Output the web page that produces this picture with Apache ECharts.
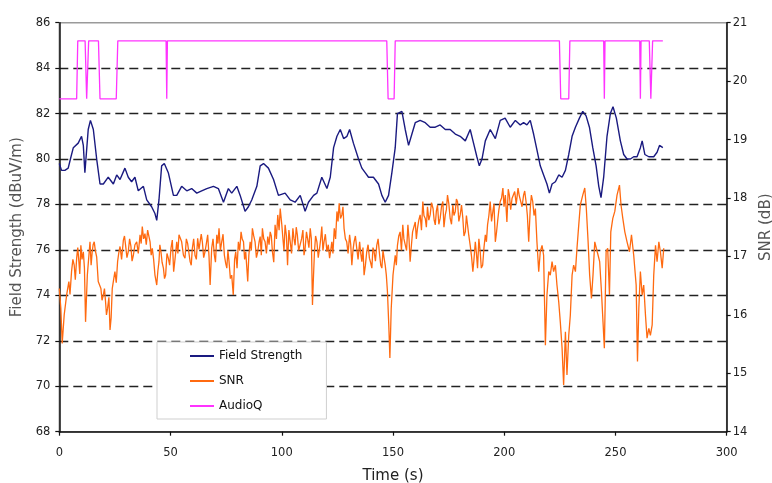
<!DOCTYPE html>
<html><head><meta charset="utf-8">
<script src="https://cdn.jsdelivr.net/npm/echarts@6/dist/echarts.min.js"></script>
<style>html,body{margin:0;padding:0;background:#fff}#c{width:772px;height:483px}</style>
</head><body><div id="c"></div><script>
// Time (s), Field Strength (dBuV/m)
const fieldStrength = [[0,79.8],[1,79.5],[2.5,79.5],[4,79.6],[5,80.0],[6.3,80.5],[8.5,80.7],[10,81.0],[10.8,80.6],[11.5,79.4],[13,81.3],[14,81.7],[15.3,81.3],[16.8,80.0],[18.3,78.9],[19.8,78.9],[22,79.2],[24.3,78.9],[25.8,79.3],[27.3,79.1],[29.5,79.6],[31,79.2],[32.5,79.0],[34,79.2],[35.5,78.6],[37.8,78.8],[39.3,78.2],[41.5,77.9],[43,77.6],[43.8,77.3],[44.8,78.2],[46,79.7],[47.2,79.8],[49,79.4],[51.3,78.4],[52.8,78.4],[55,78.8],[57.3,78.6],[59.5,78.7],[61.8,78.5],[64,78.6],[66.3,78.7],[69.3,78.8],[71.5,78.7],[73.8,78.1],[76,78.7],[77.5,78.5],[79.8,78.8],[81.3,78.4],[83.5,77.7],[85,77.9],[86.5,78.2],[88.8,78.8],[90.3,79.7],[91.8,79.8],[94,79.6],[96.3,79.1],[98.5,78.4],
[101.5,78.5],[103.8,78.2],[106,78.1],[108.3,78.4],[110.5,77.7],[112,78.1],[114.3,78.4],[115.8,78.5],[118,79.2],[120.3,78.7],[121.8,79.2],[123.3,80.5],[124.8,81.0],[126.3,81.3],[127.8,80.9],[129.3,81.0],[130.5,81.3],[132.2,80.7],[134.5,80.0],[136,79.6],[137.5,79.4],[139,79.2],[141.2,79.2],[143.5,78.9],[145,78.4],[146.5,78.1],[148,78.4],[149.5,79.4],[151,80.5],[152,82.0],[154,82.1],[155.5,81.3],[157,80.6],[158.5,81.1],[160,81.6],[162.2,81.7],[164.5,81.6],[166.7,81.4],[169,81.4],[171.2,81.5],[173.5,81.3],[175.7,81.3],[178,81.1],[180.2,81.0],[182.5,80.8],[184.7,81.3],[186.2,80.7],[187.7,80.1],[188.8,79.7],[190,80.0],[191.5,80.8],[193.7,81.3],[196,80.9],[198.2,81.7],[200.4,81.8],
[202.7,81.4],[205,81.7],[207.2,81.5],[208.7,81.6],[210.2,81.5],[211.7,81.7],[213.2,81.1],[214.7,80.4],[216.2,79.7],[217.7,79.3],[219.2,78.9],[220.3,78.5],[221.5,78.9],[223,79.0],[224.5,79.3],[226,79.2],[227.5,79.5],[229,80.2],[230.5,81.0],[232,81.4],[233.8,81.8],[235.3,82.1],[236.8,81.9],[238.3,81.4],[239.8,80.5],[241.3,79.7],[242.5,78.8],[243.5,78.3],[244.7,79.2],[246.2,81.0],[247.7,82.0],[248.9,82.3],[250.4,81.8],[252.2,80.8],[253.7,80.2],[255.2,80.0],[256.7,80.0],[258.2,80.1],[259.7,80.1],[261.2,80.5],[262,80.8],[263.2,80.2],[265,80.1],[267.2,80.1],[268.7,80.3],[269.8,80.6],[271.3,80.5]];

// Time (s), SNR (dB) - main trace
const snrMain = [[0,16.45],[0.7,16.11],[1.3,15.51],[2.2,16.0],[3.3,16.34],[4.3,16.57],[5.5,16.74],[6.7,16.85],[7.8,16.97],[8.8,16.91],[9.7,17.19],[10.8,17.08],[11.8,15.88],[12.6,16.68],[13.8,17.25],[14.8,17.08],[15.7,17.25],[16.8,16.99],[17.5,16.57],[18.7,16.45],[19.8,16.34],[20.8,16.22],[21.7,16.11],[22.8,15.74],[23.8,16.45],[25,16.74],[26.2,16.91],[27.3,17.17],[28.8,17.28],[29.8,17.19],[31,17.08],[32.2,17.17],[33.3,17.02],[34.8,17.25],[36.3,17.37],[37.3,17.51],[38.5,17.39],[39.7,17.45],[40.8,17.25],[41.8,17.14],[43,16.68],[43.8,16.51],[44.8,16.91],[45.7,17.08],[46.8,16.80],[47.8,16.68],[49,16.97],[50.2,17.14],[51.4,16.74],[52.8,17.25],[53.8,17.37],[55,17.25],[56.5,16.97],[57.7,17.22],[58.8,16.91],[59.8,17.14],[61,17.02],[62.2,17.31],[63.3,17.14],[64.3,17.25],[65.5,17.08],[66.7,17.37],[67.8,16.51],[68.5,17.14],[69.7,17.02],[70.8,17.37],[71.8,17.48],[73,17.25],[74.2,17.02],[75.3,16.80],[76.3,16.91],[77.5,16.68],[78.2,16.34],[79.3,17.08],[80.5,17.25],[81.7,17.42],[82.8,17.25],[83.8,17.08],[84.7,16.57],[85.8,17.25],[86.8,17.48],[88,17.25],[89.2,17.08],[90.3,17.34],[91.3,17.48],[92.5,17.25],[93.7,17.34],[94.8,17.42],[95.8,17.08],[97,17.54],[98.2,17.71],[99.3,17.82],
[100.5,17.31],[101.5,17.54],[102.6,16.85],[103.8,17.25],[105,17.48],[106,17.19],[107,17.37],[108.3,17.08],[109.5,17.45],[110.5,17.14],[111.6,17.31],[112.8,17.48],[113.8,16.17],[114.7,17.08],[115.8,17.25],[117,17.14],[118,17.51],[119,17.25],[120.3,17.08],[121.5,16.97],[122.5,17.25],[123.6,17.48],[124.8,17.77],[125.8,17.91],[127,17.71],[128,17.48],[129.2,17.25],[130.5,17.37],[131.5,16.85],[132.5,17.25],[133.7,17.14],[135,17.25],[136,16.91],[137,16.68],[138.2,17.08],[139.4,16.97],[140.5,16.80],[141.5,17.08],[142.7,17.19],[144,17.02],[145,16.80],[146,16.97],[147,16.68],[147.5,16.40],[148.1,15.83],[148.6,15.26],[149.2,16.11],[150,16.68],[151,17.02],[152,17.19],[153.2,17.42],[154.4,17.54],[155.5,17.31],[156.7,17.54],[157.7,16.91],[158.8,17.42],[160,17.59],[161,17.48],[162.2,17.71],[163.4,17.94],[164.5,17.65],[165.5,17.85],[166.7,17.71],[168,17.82],[169,17.54],[170,17.88],[171.2,17.65],[172.4,17.94],[173.5,17.71],[174.5,18.05],[175.7,17.65],[176.9,17.88],[178,17.77],[179,17.94],[180.2,17.71],[181.4,17.65],[182.5,17.42],[183.5,17.54],[184.7,17.19],[185.9,16.74],[187,17.25],[188,16.80],[189.2,17.08],[190.3,16.85],[191.5,17.37],[192.5,17.54],[193.7,17.94],[194.9,17.77],[196,17.25],[197,17.59],[198.2,17.94],[199.4,18.17],[200.5,18.05],
[201.2,17.59],[202.3,18.05],[203.5,17.99],[204.7,18.11],[206.2,18.17],[207.2,18.08],[208.7,18.05],[209.8,17.94],[211,17.25],[211.7,17.82],[212.8,17.94],[214,17.82],[214.7,17.25],[215.5,16.74],[216.2,17.08],[217,17.19],[217.7,17.02],[218.5,15.48],[219.2,16.34],[220,16.74],[220.7,16.68],[221.5,16.91],[222.2,16.74],[223,16.85],[223.7,16.51],[224.5,16.22],[225.2,15.88],[226,15.43],[226.7,14.80],[227.5,15.71],[228.2,14.97],[229,15.65],[229.7,15.99],[230.5,16.68],[231.2,16.85],[232,16.74],[232.7,17.14],[233.5,17.54],[234.2,17.88],[235.3,18.05],[236.2,18.17],[236.9,17.82],[237.7,17.25],[238.4,16.68],[239.2,16.28],[239.9,16.68],[240.7,17.25],[241.4,17.14],[242.2,17.02],[242.9,16.91],[243.7,16.40],[244.4,15.88],[245,15.43],[245.8,17.08],[246.5,17.14],[247.3,16.34],[247.9,17.42],[248.8,17.65],[249.7,17.77],[250.7,18.05],[251.8,18.22],[252.5,17.88],[253.3,17.65],[254.2,17.42],[255.2,17.25],[256.3,17.08],[257.2,17.37],[258.2,17.02],[259.3,16.51],[259.9,15.20],[260.5,16.11],[261.2,16.74],[262,16.34],[262.7,16.51],[263.5,15.99],[264.2,15.60],[265,15.77],[265.7,15.65],[266.5,15.83],[267.2,16.68],[268,17.19],[268.7,16.91],[269.5,17.25],[270.2,17.08],[271,16.80],[271.7,17.14]];

// Time (s), SNR (dB) - extra samples
const snrDetail = [[4.8,16.35],[6.1,16.95],[7.2,16.60],[8.3,17.15],[9.2,16.70],[10.2,16.95],[11.3,16.80],[14.3,16.85],[15.2,17.20],[16.2,17.10],[18.1,16.60],[19.2,16.25],[20.3,16.45],[21.2,16.00],[22.3,16.30],[23.3,15.95],[24.4,16.60],
[25.6,16.55],[26.7,17.05],[28.0,16.95],[29.3,17.35],[30.4,16.98],[31.6,17.30],[32.7,16.92],[34.0,17.20],[35.5,17.05],[36.8,17.22],[37.9,17.30],[39.1,17.20],[40.2,17.48],[41.3,17.02],[42.4,16.95],[44.3,16.75],[45.2,17.20],[46.2,16.90],[47.3,16.62],[48.4,17.05],[49.6,16.85],[50.8,17.28],[52.0,16.95],[53.3,17.05],[54.4,17.40],[55.8,17.02],[57.1,17.30],[58.3,17.05],[59.3,16.85],[60.4,17.30],[61.6,16.95],[62.8,17.12],[63.8,17.38],[64.9,16.98],[66.1,17.22],[67.3,17.00],[69.1,17.30],[70.2,16.90],[71.3,17.22],[72.4,17.10],[73.6,17.38],[74.8,16.88],[75.8,17.10],[76.9,16.62],[78.8,16.95],[79.9,16.80],[81.1,17.10],[82.2,17.30],[83.3,16.95],[85.2,17.02],[86.3,17.10],[87.4,17.35],[88.6,16.98],[89.8,17.25],[90.8,17.02],[91.9,17.30],[93.1,17.05],[94.3,17.20],[95.3,17.35],[96.4,16.90],[97.6,17.30],[98.8,17.45],
[100.0,17.55],[101.0,17.10],[102.1,17.35],[103.2,17.45],[104.4,17.05],[105.5,17.30],[106.5,17.50],[107.6,17.10],[108.9,17.30],[110.0,17.02],[111.1,17.42],[112.2,17.15],[113.3,17.30],[114.2,16.60],[115.2,17.35],[116.4,16.98],[117.5,17.30],[118.5,17.10],[119.6,17.38],[120.9,17.20],[122.0,17.10],[123.0,17.05],[124.2,17.30],[125.3,17.60],[126.4,17.65],[127.5,17.85],[128.6,17.30],[129.8,17.05],[131.0,17.20],[132.0,17.10],[133.1,17.35],[134.3,16.95],[135.5,17.05],[136.5,17.15],[137.6,16.85],[138.8,17.20],[139.9,16.90],[141.0,17.15],[142.1,16.92],[143.3,17.30],[144.5,16.85],[145.5,17.10],[146.5,16.85],
[151.5,16.85],[152.6,17.35],[153.8,17.10],[154.9,17.30],[156.1,17.10],[157.2,17.30],[158.3,17.20],[159.4,17.40],[160.5,17.30],[161.6,17.62],[162.8,17.45],[163.9,17.70],[165.0,17.50],[166.1,17.62],[167.3,17.92],[168.5,17.62],[169.5,17.78],[170.6,17.55],[171.8,17.85],[172.9,17.50],[174.0,17.80],[175.1,17.90],[176.3,17.55],[177.4,17.70],[178.5,17.98],[179.6,17.60],[180.8,17.88],[181.9,17.35],[183.0,17.70],[184.1,17.35],[185.3,17.00],[186.4,16.95],[187.5,17.05],[188.6,17.30],[189.7,16.80],[190.9,17.15],[192.0,17.25],[193.1,17.70],[194.3,17.60],[195.4,17.90],[196.5,17.40],[197.6,17.80],[198.8,18.00],[199.9,17.85],[201.8,18.15],[202.9,17.80],[204.1,18.05],[205.4,17.90],[206.7,18.05],[208.0,17.85],[209.2,18.12],[210.4,17.70],[212.2,18.05],[213.4,17.70]];

// Time (s), AudioQ level (drawn on the Field Strength scale)
const AQ_HI = 85.2, AQ_LO = 82.65;
const audioQ = [[0,AQ_LO],[7.8,AQ_LO],[8.3,AQ_HI],[11.6,AQ_HI],[12.3,AQ_LO],[13.2,AQ_HI],[17.6,AQ_HI],[18.3,AQ_LO],[25.6,AQ_LO],[26.3,AQ_HI],[48,AQ_HI],[48.3,AQ_LO],[48.6,AQ_HI],[147.2,AQ_HI],[147.8,AQ_LO],[150.5,AQ_LO],[151,AQ_HI],[224.8,AQ_HI],[225.4,AQ_LO],[229,AQ_LO],[229.5,AQ_HI],[244.7,AQ_HI],[245,AQ_LO],[245.3,AQ_HI],[260.9,AQ_HI],[261.2,AQ_LO],[261.5,AQ_HI],[265.2,AQ_HI],[265.9,AQ_LO],[266.7,AQ_HI],[271.3,AQ_HI]];

const seriesNames = ['Field Strength', 'SNR', 'AudioQ'];
const FONT = 'DejaVu Sans, Liberation Sans, Arial, sans-serif';

const snr = snrMain.concat(snrDetail).sort((a, b) => a[0] - b[0]);

const chart = echarts.init(document.getElementById('c'));
const splitColors = ['rgba(0,0,0,0)','#222','#222','#222','#222','#222','#222','#222','#222','rgba(0,0,0,0)'];
chart.setOption({
  animation: false,
  backgroundColor: '#fff',
  textStyle: { fontFamily: FONT },
  grid: { left: 59.3, right: 45.3, top: 22.7, bottom: 51.3, outerBoundsMode: 'none', containLabel: false, show: true, borderColor: '#9a9a9a', borderWidth: 1.5, backgroundColor: 'transparent' },
  legend: {
    data: seriesNames.map(n => ({ name: n, icon: 'rect' })),
    orient: 'vertical', left: 157, top: 342,
    padding: [7, 24, 6, 33],
    itemWidth: 24, itemHeight: 2, itemGap: 11,
    backgroundColor: '#fff', borderColor: '#cfcfcf', borderWidth: 1,
    textStyle: { fontSize: 12, color: '#111', fontFamily: FONT, lineHeight: 14 }
  },
  xAxis: {
    type: 'value', min: 0, max: 300, interval: 50,
    name: 'Time (s)', nameLocation: 'middle', nameGap: 37,
    nameTextStyle: { fontSize: 15, color: '#222', fontFamily: FONT },
    axisLine: { lineStyle: { color: '#111', width: 1.5 } },
    axisTick: { length: 4, lineStyle: { color: '#111', width: 1.2 } },
    axisLabel: { fontSize: 11.5, color: '#222', margin: 15, fontFamily: FONT },
    splitLine: { show: false }
  },
  yAxis: [{
    type: 'value', min: 68, max: 86, interval: 2, position: 'left',
    name: 'Field Strength (dBuV/m)', nameLocation: 'middle', nameGap: 33, nameRotate: 90,
    nameTextStyle: { fontSize: 15, color: '#555', fontFamily: FONT },
    axisLine: { show: true, lineStyle: { color: '#111', width: 1.5 } },
    axisTick: { show: true, length: 4, lineStyle: { color: '#111', width: 1.2 } },
    axisLabel: { fontSize: 11.5, color: '#222', margin: 9, fontFamily: FONT },
    splitLine: { show: true, lineStyle: { color: splitColors, type: [9, 5], width: 1.4 } }
  }, {
    type: 'value', min: 14, max: 21, interval: 1, position: 'right',
    name: 'SNR (dB)', nameLocation: 'middle', nameGap: 28, nameRotate: 90,
    nameTextStyle: { fontSize: 15, color: '#555', fontFamily: FONT },
    axisLine: { show: true, lineStyle: { color: '#111', width: 1.5 } },
    axisTick: { show: true, length: 4, lineStyle: { color: '#111', width: 1.2 } },
    axisLabel: { fontSize: 11.5, color: '#222', margin: 6, fontFamily: FONT },
    splitLine: { show: false }
  }],
  series: [{
    name: seriesNames[0], type: 'line', yAxisIndex: 0, data: fieldStrength,
    showSymbol: false, symbol: 'none', z: 4,
    lineStyle: { color: '#1a1a80', width: 1.4 }, itemStyle: { color: '#1a1a80' }
  }, {
    name: seriesNames[1], type: 'line', yAxisIndex: 1, data: snr,
    showSymbol: false, symbol: 'none', z: 3,
    lineStyle: { color: '#ff6a10', width: 1.3 }, itemStyle: { color: '#ff6a10' }
  }, {
    name: seriesNames[2], type: 'line', yAxisIndex: 0, data: audioQ,
    showSymbol: false, symbol: 'none', z: 3,
    lineStyle: { color: '#ff33ff', width: 1.3 }, itemStyle: { color: '#ff33ff' }
  }]
});
</script></body></html>
